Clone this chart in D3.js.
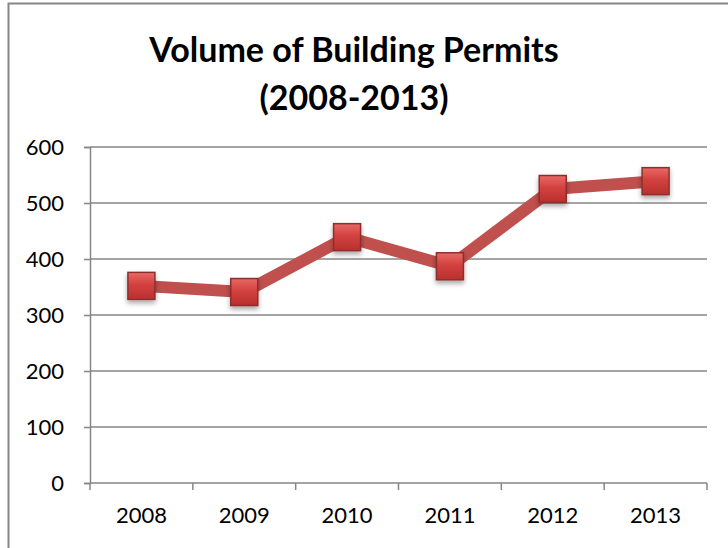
<!DOCTYPE html>
<html>
<head>
<meta charset="utf-8">
<script src="https://cdn.jsdelivr.net/npm/d3@7"></script>
<style>
  body { margin: 0; background: #fff; }
  svg { display: block; }
</style>
</head>
<body>
<svg id="chart"></svg>
<script>
var years = ["2008", "2009", "2010", "2011", "2012", "2013"];
var permits = [352, 341, 439, 387, 525, 539];
var yTicks = [0, 100, 200, 300, 400, 500, 600];
var titleLines = ["Volume of Building Permits", "(2008-2013)"];

var svgWidth = 728, svgHeight = 548;
var margin = { top: 147, right: 21, bottom: 65, left: 90 };
var width = svgWidth - margin.left - margin.right;
var height = svgHeight - margin.top - margin.bottom;

var svg = d3.select("#chart")
    .attr("width", svgWidth)
    .attr("height", svgHeight);

// outer chart frame (runs off the right and bottom edges)
svg.append("rect")
    .attr("x", 8.5)
    .attr("y", 3.5)
    .attr("width", 740)
    .attr("height", 560)
    .attr("fill", "none")
    .attr("stroke", "#868686")
    .attr("stroke-width", 2);

var defs = svg.append("defs");
var grad = defs.append("linearGradient")
    .attr("id", "markerFill")
    .attr("x1", 0).attr("y1", 0).attr("x2", 0).attr("y2", 1);
grad.append("stop").attr("offset", "0%").attr("stop-color", "#e86a67");
grad.append("stop").attr("offset", "45%").attr("stop-color", "#d3413e");
grad.append("stop").attr("offset", "100%").attr("stop-color", "#b8302e");

var shadow = defs.append("filter")
    .attr("id", "shadow")
    .attr("x", "-30%").attr("y", "-30%")
    .attr("width", "160%").attr("height", "170%");
shadow.append("feDropShadow")
    .attr("dx", 0).attr("dy", 3)
    .attr("stdDeviation", 2.5)
    .attr("flood-color", "#000")
    .attr("flood-opacity", 0.35);

var g = svg.append("g")
    .attr("transform", "translate(" + margin.left + "," + margin.top + ")");

var x = d3.scaleBand()
    .domain(years)
    .range([0, width]);

var y = d3.scaleLinear()
    .domain([0, 600])
    .range([height, 0]);

// gridlines
g.append("g")
    .selectAll("line")
    .data(yTicks.slice(1))
    .enter().append("line")
    .attr("x1", 0)
    .attr("x2", width)
    .attr("y1", function(d) { return y(d); })
    .attr("y2", function(d) { return y(d); })
    .attr("stroke", "#868686")
    .attr("stroke-width", 1.5);

// y axis
var yAxis = g.append("g")
    .call(d3.axisLeft(y).tickValues(yTicks).tickSize(6).tickPadding(20));
yAxis.selectAll("path, line").attr("stroke", "#868686").attr("stroke-width", 1.5);
yAxis.selectAll("text")
    .attr("fill", "#000")
    .attr("font-family", "Lato, sans-serif")
    .attr("font-size", "22px");

// x axis: ticks at category boundaries
var boundaries = years.map(function(d) { return x(d); }).concat([width]);
var xAxis = g.append("g")
    .attr("transform", "translate(0," + height + ")");
xAxis.append("line")
    .attr("x1", 0).attr("x2", width)
    .attr("stroke", "#868686").attr("stroke-width", 1.5);
xAxis.selectAll(".tick")
    .data(boundaries)
    .enter().append("line")
    .attr("x1", function(d) { return d; })
    .attr("x2", function(d) { return d; })
    .attr("y1", 0).attr("y2", 7)
    .attr("stroke", "#868686").attr("stroke-width", 1.5);
xAxis.selectAll("text")
    .data(years)
    .enter().append("text")
    .attr("x", function(d) { return x(d) + x.bandwidth() / 2; })
    .attr("y", 40)
    .attr("text-anchor", "middle")
    .attr("font-family", "Lato, sans-serif")
    .attr("font-size", "22px")
    .attr("fill", "#000")
    .text(function(d) { return d; });

// series line
var line = d3.line()
    .x(function(d, i) { return x(years[i]) + x.bandwidth() / 2; })
    .y(function(d) { return y(d); });

g.append("path")
    .datum(permits)
    .attr("fill", "none")
    .attr("stroke", "#c0504d")
    .attr("stroke-width", 12)
    .attr("stroke-linejoin", "round")
    .attr("d", line);

// square markers
var size = 27;
g.selectAll(".marker")
    .data(permits)
    .enter().append("rect")
    .attr("class", "marker")
    .attr("x", function(d, i) { return x(years[i]) + x.bandwidth() / 2 - size / 2; })
    .attr("y", function(d) { return y(d) - size / 2; })
    .attr("width", size)
    .attr("height", size)
    .attr("fill", "url(#markerFill)")
    .attr("stroke", "#8c2f2d")
    .attr("stroke-width", 1.5)
    .attr("filter", "url(#shadow)");

// title
svg.append("g")
    .selectAll("text")
    .data(titleLines)
    .enter().append("text")
    .attr("x", 354)
    .attr("y", function(d, i) { return 62 + i * 48; })
    .attr("text-anchor", "middle")
    .attr("font-family", "Lato, sans-serif")
    .attr("font-weight", "bold")
    .attr("font-size", "34px")
    .attr("fill", "#000")
    .text(function(d) { return d; });
</script>
</body>
</html>
